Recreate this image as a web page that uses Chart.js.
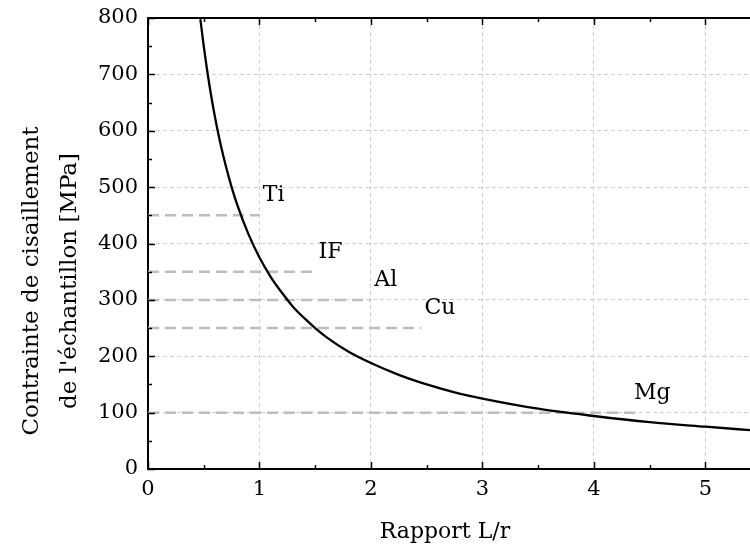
<!DOCTYPE html>
<html>
<head>
<meta charset="utf-8">
<script src="https://cdn.jsdelivr.net/npm/chart.js@4/dist/chart.umd.min.js"></script>
<style>
  html, body { margin: 0; padding: 0; background: #fff; }
  #wrap { width: 750px; height: 547px; }
</style>
</head>
<body>
<div id="wrap"><canvas id="chart" width="750" height="547"></canvas></div>
<script>
// curve (L/r vs shear stress)
const ratioValues = [0.47, 0.5, 0.55, 0.6, 0.65, 0.7, 0.75, 0.8, 0.9, 1.0, 1.1, 1.2, 1.3, 1.4, 1.5, 1.6, 1.8, 2.0, 2.25, 2.5, 2.75, 3.0, 3.5, 4.0, 4.5, 5.0, 5.4];
const stressValues = [798, 750, 682, 625, 577, 536, 500, 469, 417, 375, 341, 313, 288, 268, 250, 234, 208, 188, 167, 150, 136, 125, 107, 94, 83, 75, 69];

// material levels (dashed lines)
const materials = ['Ti', 'IF', 'Al', 'Cu', 'Mg'];
const materialStress = [450, 350, 300, 250, 100];
const materialLineEnd = [1.0, 1.5, 2.0, 2.45, 4.4];
const materialLabelX = [1.03, 1.53, 2.03, 2.48, 4.36];

const xTicks = [0, 1, 2, 3, 4, 5];
const yTicks = [0, 100, 200, 300, 400, 500, 600, 700, 800];

const FONT = "'DejaVu Serif', 'Liberation Serif', serif";

const curve = {
  label: 'curve',
  data: ratioValues.map((v, i) => ({ x: v, y: stressValues[i] })),
  borderColor: '#000',
  borderWidth: 2.3,
  pointRadius: 0,
  cubicInterpolationMode: 'monotone',
  fill: false
};

const levelSets = materials.map((m, i) => ({
  label: m,
  data: [{ x: 0, y: materialStress[i] }, { x: materialLineEnd[i], y: materialStress[i] }],
  borderColor: '#bdbdbd',
  borderWidth: 2.5,
  borderDash: [11, 6],
  pointRadius: 0,
  fill: false
}));

// frame, inward ticks, annotations and axis titles
const decor = {
  id: 'decor',
  afterDraw(chart) {
    const { ctx, chartArea: a, scales: { x, y } } = chart;
    ctx.save();
    ctx.strokeStyle = '#000';
    ctx.lineWidth = 2;
    ctx.beginPath();
    ctx.moveTo(a.left - 1, a.top);
    ctx.lineTo(a.right, a.top);
    ctx.stroke();

    ctx.lineWidth = 1.5;
    ctx.beginPath();
    for (let v = 0; v <= 5.4; v += 0.5) {
      const px = Math.round(x.getPixelForValue(v)) + 0.5;
      const len = Number.isInteger(v) ? 7 : 4;
      ctx.moveTo(px, a.bottom); ctx.lineTo(px, a.bottom - len);
      ctx.moveTo(px, a.top); ctx.lineTo(px, a.top + len);
    }
    for (let v = 0; v <= 800; v += 50) {
      const py = Math.round(y.getPixelForValue(v)) + 0.5;
      const len = v % 100 === 0 ? 7 : 4;
      ctx.moveTo(a.left, py); ctx.lineTo(a.left + len, py);
    }
    ctx.stroke();

    ctx.fillStyle = '#000';
    ctx.font = '22px ' + FONT;
    ctx.textAlign = 'left';
    ctx.textBaseline = 'middle';
    materials.forEach((m, i) => {
      ctx.fillText(m, x.getPixelForValue(materialLabelX[i]), y.getPixelForValue(materialStress[i] + 35));
    });

    ctx.textAlign = 'center';
    ctx.fillText('Rapport L/r', 445, 532);

    ctx.font = '23px ' + FONT;
    ctx.translate(0, 281);
    ctx.rotate(-Math.PI / 2);
    ctx.fillText('Contrainte de cisaillement', 0, 32);
    ctx.fillText("de l'échantillon [MPa]", 0, 70);
    ctx.restore();
  }
};

new Chart(document.getElementById('chart'), {
  type: 'line',
  data: { datasets: [curve, ...levelSets] },
  options: {
    responsive: false,
    animation: false,
    layout: { padding: { top: 18, right: 0, left: 0, bottom: 0 } },
    plugins: { legend: { display: false }, tooltip: { enabled: false } },
    scales: {
      x: {
        type: 'linear',
        min: 0,
        max: 5.4,
        afterFit: s => { s.height = 78; s.paddingLeft = 0; s.paddingRight = 0; },
        afterBuildTicks: s => { s.ticks = xTicks.map(v => ({ value: v })); },
        grid: { color: '#cfcfcf', lineWidth: 1, drawTicks: false },
        border: { color: '#000', width: 2, dash: [4, 3] },
        ticks: { color: '#000', padding: 8, font: { family: FONT, size: 21 } }
      },
      y: {
        type: 'linear',
        min: 0,
        max: 800,
        afterFit: s => { s.width = 148; s.paddingTop = 0; s.paddingBottom = 0; },
        afterBuildTicks: s => { s.ticks = yTicks.map(v => ({ value: v })); },
        grid: { color: '#cfcfcf', lineWidth: 1, drawTicks: false },
        border: { color: '#000', width: 2, dash: [4, 3] },
        ticks: { color: '#000', padding: 10, font: { family: FONT, size: 21 } }
      }
    }
  },
  plugins: [decor]
});
</script>
</body>
</html>
